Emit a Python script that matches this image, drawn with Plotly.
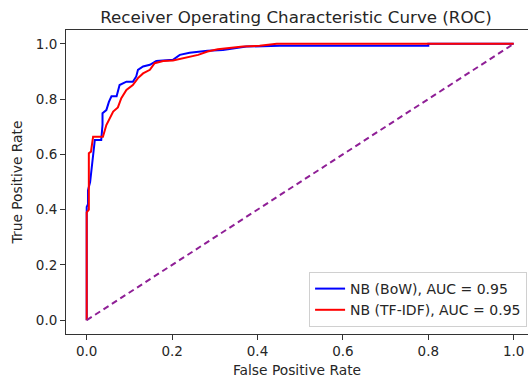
import plotly.graph_objects as go

# ROC data
bow_fpr = [0, 0, 0.003, 0.003, 0.008, 0.011, 0.014, 0.016, 0.019, 0.034, 0.037, 0.037, 0.046, 0.052,
           0.058, 0.070, 0.077, 0.093, 0.108, 0.116, 0.120, 0.132, 0.148, 0.163, 0.202, 0.218, 0.241,
           0.283, 0.319, 0.374, 0.452, 0.800, 0.800, 1.0]
bow_tpr = [0, 0.41, 0.42, 0.47, 0.50, 0.54, 0.58, 0.60, 0.652, 0.652, 0.707, 0.749, 0.76, 0.79,
           0.81, 0.81, 0.851, 0.863, 0.863, 0.882, 0.906, 0.918, 0.924, 0.938, 0.942, 0.960, 0.968,
           0.975, 0.978, 0.990, 0.993, 0.993, 1.0, 1.0]

tfidf_fpr = [0, 0, 0.005, 0.005, 0.010, 0.013, 0.015, 0.038, 0.046, 0.062, 0.073, 0.081, 0.093, 0.108,
             0.120, 0.132, 0.148, 0.159, 0.179, 0.202, 0.233, 0.261, 0.283, 0.307, 0.366, 0.405, 0.445,
             1.0]
tfidf_tpr = [0, 0.39, 0.40, 0.604, 0.61, 0.64, 0.664, 0.664, 0.706, 0.755, 0.77, 0.803, 0.833, 0.851,
             0.876, 0.893, 0.906, 0.930, 0.938, 0.940, 0.950, 0.960, 0.972, 0.980, 0.990, 0.993, 1.0,
             1.0]

diag = [0, 1]
labels = ["NB (BoW), AUC = 0.95", "NB (TF-IDF), AUC = 0.95"]
tick_vals = [0.0, 0.2, 0.4, 0.6, 0.8, 1.0]
tick_text = ["0.0", "0.2", "0.4", "0.6", "0.8", "1.0"]

FONT = "DejaVu Sans"
fig = go.Figure()
fig.add_trace(go.Scatter(x=bow_fpr, y=bow_tpr, mode="lines", name=labels[0],
                         line=dict(color="#0000ff", width=2)))
fig.add_trace(go.Scatter(x=tfidf_fpr, y=tfidf_tpr, mode="lines", name=labels[1],
                         line=dict(color="#ff0000", width=2)))
fig.add_trace(go.Scatter(x=diag, y=diag, mode="lines", showlegend=False,
                         line=dict(color="#8f1f96", width=2, dash="6px,4px")))

fig.update_layout(
    width=528, height=383,
    margin=dict(l=66, r=0, t=30, b=49, autoexpand=False),
    paper_bgcolor="white", plot_bgcolor="white",
    font=dict(family=FONT, size=13, color="#262626"),
    title=dict(text="Receiver Operating Characteristic Curve (ROC)", x=296 / 528, xanchor="center",
               y=1 - 17 / 383, yanchor="middle", font=dict(size=16.7, color="#262626")),
    showlegend=True,
    legend=dict(x=0.998, xanchor="right", y=(334 - 327) / 304, yanchor="bottom",
                bgcolor="rgba(255,255,255,0.8)", bordercolor="#d0d0d0", borderwidth=1,
                font=dict(size=14), tracegroupgap=0, itemwidth=30),
    xaxis=dict(range=[-0.0485, 1.0335], tickvals=tick_vals, ticktext=tick_text,
               showgrid=False, zeroline=False, showline=True, linecolor="#333", linewidth=1,
               mirror=True, ticks="outside", ticklen=5, tickcolor="#333",
               tickfont=dict(size=13.5),
               title=dict(text="False Positive Rate", standoff=7, font=dict(size=13.8))),
    yaxis=dict(range=[-0.05, 1.05], tickvals=tick_vals, ticktext=tick_text,
               showgrid=False, zeroline=False, showline=True, linecolor="#333", linewidth=1,
               ticks="outside", ticklen=5, tickcolor="#333",
               tickfont=dict(size=13.5),
               title=dict(text="True Positive Rate", standoff=9, font=dict(size=13.8))),
)
fig.write_html("out.html")
